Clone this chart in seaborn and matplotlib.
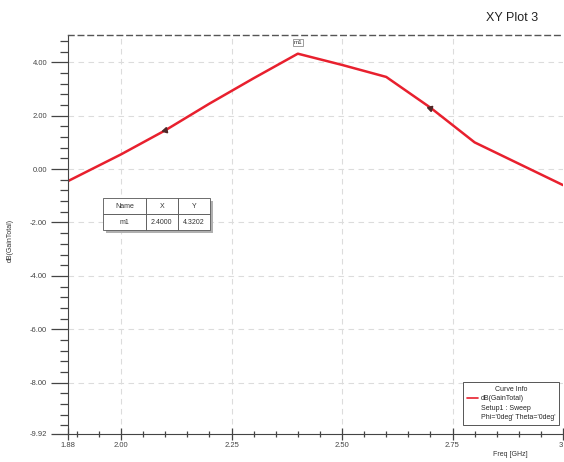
import numpy as np
import pandas as pd
import matplotlib.pyplot as plt
import seaborn as sns
from matplotlib.lines import Line2D
from matplotlib.ticker import MultipleLocator, FixedLocator

# curve values
freq = [1.88, 2.0, 2.1, 2.2, 2.3, 2.4, 2.5, 2.6, 2.7, 2.8, 2.9, 3.0]
gain = [-0.45, 0.55, 1.45, 2.45, 3.4, 4.3202, 3.9, 3.45, 2.3, 1.0, 0.2, -0.6]

x_ticks = [1.88, 2.0, 2.25, 2.5, 2.75, 3.0]
x_labels = ['1.88', '2.00', '2.25', '2.50', '2.75', '3']
y_ticks = [-9.92, -8, -6, -4, -2, 0, 2, 4]
y_labels = ['-9.92', '-8.00', '-6.00', '-4.00', '-2.00', '0.00', '2.00', '4.00']

marker_name = 'm1'
marker_x = 2.4
marker_y = 4.3202

df = pd.DataFrame({'Freq [GHz]': freq, 'dB(GainTotal)': gain})

sns.set_style('white')
plt.rcParams['font.family'] = ['Liberation Sans', 'DejaVu Sans']

W, H = 564, 462
fig = plt.figure(figsize=(W / 100, H / 100), dpi=100)
AX_L, AX_R, AX_T, AX_B = 68, 563, 35, 434
AW, AH = AX_R - AX_L, AX_B - AX_T
ax = fig.add_axes([AX_L / W, 1 - AX_B / H, AW / W, AH / H])

red = '#e8202e'
sns.lineplot(data=df, x='Freq [GHz]', y='dB(GainTotal)', ax=ax, color=red, lw=1.8)

# direction arrows on the curve
for i in [2, 8]:
    ang = np.degrees(np.arctan2(gain[i + 1] - gain[i - 1], (freq[i + 1] - freq[i - 1]) * 3.0))
    ax.plot(freq[i], gain[i], marker=(3, 0, ang - 90), color='#502828', ms=4.5)

ax.set_xlim(1.88, 3.0)
ax.set_ylim(-9.92, 5.02)

ax.xaxis.set_major_locator(FixedLocator(x_ticks))
ax.set_xticklabels(x_labels)
ax.get_xticklabels()[-1].set_ha('right')
ax.yaxis.set_major_locator(FixedLocator(y_ticks))
ax.set_yticklabels(y_labels)
ax.xaxis.set_minor_locator(MultipleLocator(0.05))
ax.yaxis.set_minor_locator(MultipleLocator(0.4))

ax.tick_params(which='both', left=True, bottom=True)
ax.tick_params(axis='y', which='major', length=12, width=0.9, labelsize=5.5, color='#444444', labelcolor='#444444', pad=3)
ax.tick_params(axis='y', which='minor', length=6, width=0.9, color='#444444')
ax.tick_params(axis='x', which='major', direction='inout', length=8, width=0.9, labelsize=5.5, color='#444444', labelcolor='#444444', pad=2)
ax.tick_params(axis='x', which='minor', direction='inout', length=5, width=0.9, color='#444444')

for v in [2.0, 2.25, 2.5, 2.75]:
    ax.axvline(v, color='#dcdcdc', lw=0.8, ls=(0, (5, 4)), zorder=0)
for v in [-8, -6, -4, -2, 0, 2, 4]:
    ax.axhline(v, color='#dcdcdc', lw=0.8, ls=(0, (5, 4)), zorder=0)

ax.spines['right'].set_visible(False)
ax.spines['left'].set_color('#444444')
ax.spines['bottom'].set_color('#444444')
ax.spines['top'].set_color('#555555')
ax.spines['top'].set_linestyle((0, (4, 3)))
ax.spines['top'].set_linewidth(1.0)

ax.set_xlabel('')
ax.set_ylabel('')
fig.text(10 / W, 1 - 240 / H, 'dB(GainTotal)', rotation=90, fontsize=5, color='#333333', ha='center', va='center')
fig.text(510 / W, 1 - 455 / H, 'Freq [GHz]', fontsize=5, color='#333333', ha='center', va='center')
fig.text(512 / W, 1 - 18 / H, 'XY Plot 3', fontsize=9, color='#222222', ha='center', va='center')

# marker label on the peak
ax.annotate(marker_name, (marker_x, marker_y), xytext=(0, 8), textcoords='offset points',
            ha='center', va='center', fontsize=4.5, color='#333333',
            bbox=dict(boxstyle='square,pad=0.15', fc='white', ec='#777777', lw=0.5))

# marker table
tb_x, tb_y, tb_w, tb_h = (103 - AX_L) / AW, (AX_B - 230) / AH, 107 / AW, 32 / AH
shadow = plt.Rectangle((tb_x + 0.006, tb_y - 0.008), tb_w, tb_h, transform=ax.transAxes,
                       fc='#b0b0b0', ec='none', zorder=4)
ax.add_patch(shadow)
tab = ax.table(cellText=[[marker_name, f'{marker_x:.4f}', f'{marker_y:.4f}']],
               colLabels=['Name', 'X', 'Y'], bbox=[tb_x, tb_y, tb_w, tb_h],
               cellLoc='center', colWidths=[0.4, 0.3, 0.3])
tab.auto_set_font_size(False)
tab.set_fontsize(5)
tab.set_zorder(5)
for cell in tab.get_celld().values():
    cell.set_edgecolor('#555555')
    cell.set_linewidth(0.6)
    cell.get_text().set_color('#333333')

# curve info legend
handles = [Line2D([], [], color=red, lw=1.2), Line2D([], [], color='none'), Line2D([], [], color='none')]
labels = ['dB(GainTotal)', 'Setup1 : Sweep', "Phi='0deg' Theta='0deg'"]
leg = ax.legend(handles, labels, title='Curve Info', loc='lower right',
                bbox_to_anchor=((562 - AX_L) / AW, (AX_B - 428) / AH),
                fontsize=5, title_fontsize=5, frameon=True, fancybox=False, framealpha=1,
                handlelength=1.6, handletextpad=0.4, labelspacing=0.35, borderpad=0.5)
leg.get_frame().set_edgecolor('#555555')
leg.get_frame().set_linewidth(0.7)
leg.set_zorder(6)

fig.savefig('out.png', dpi=100)
